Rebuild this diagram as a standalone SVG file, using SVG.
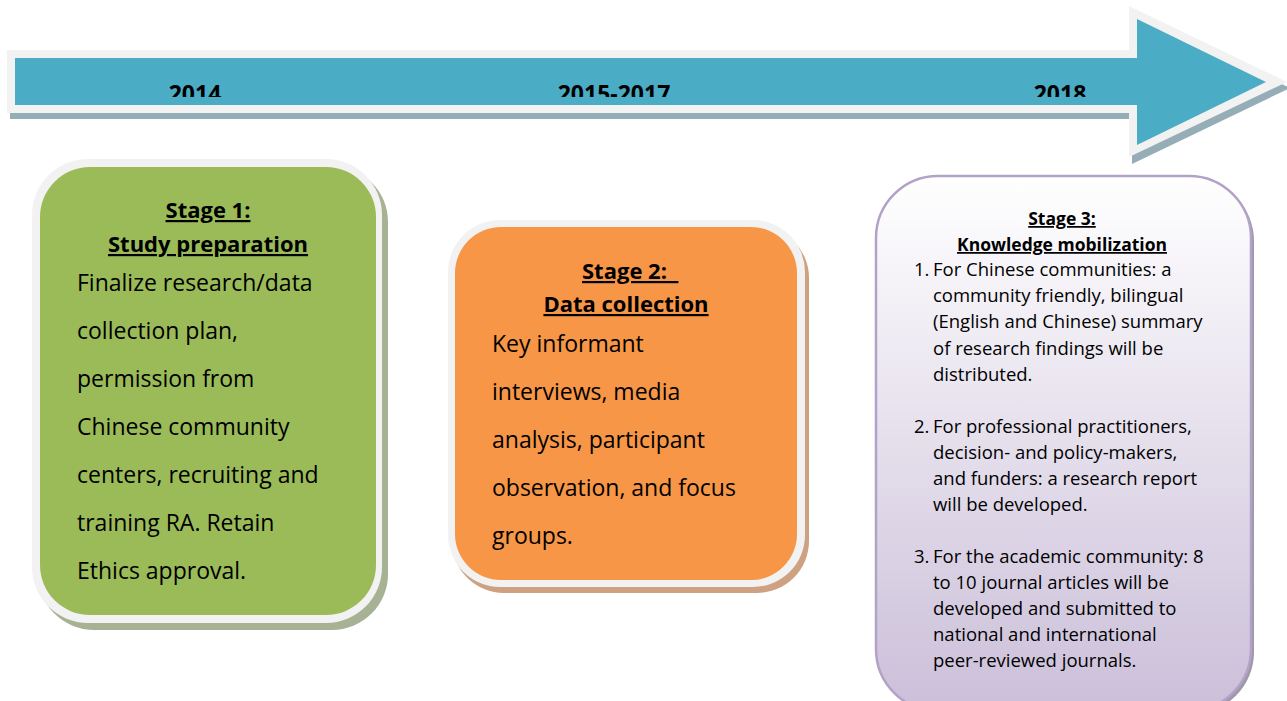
<svg xmlns="http://www.w3.org/2000/svg" width="1287" height="701" viewBox="0 0 1287 701">
  <style>
    .year { font-family: "Open Sans", "Liberation Sans", sans-serif; font-weight: bold; font-size: 23px; fill: #000; text-anchor: middle; }
    .title { font-family: "Open Sans", "Liberation Sans", sans-serif; font-weight: bold; font-size: 22px; fill: #000; text-decoration: underline; }
    .title3 { font-family: "Open Sans", "Liberation Sans", sans-serif; font-weight: bold; font-size: 17.5px; fill: #000; text-decoration: underline; text-anchor: middle; }
    .body { font-family: "Open Sans", "Liberation Sans", sans-serif; font-size: 23px; fill: #000; }
    .list { font-family: "Open Sans", "Liberation Sans", sans-serif; font-size: 18.5px; fill: #000; }
    .mid { text-anchor: middle; }
  </style>
  <defs>
    <clipPath id="yearClip">
      <rect x="0" y="0" width="1287" height="97"/>
    </clipPath>
    <linearGradient id="purpleGrad" x1="0" y1="0" x2="0" y2="1">
      <stop offset="0" stop-color="#ffffff"/>
      <stop offset="1" stop-color="#cbbfd9"/>
    </linearGradient>
  </defs>

  <rect width="1287" height="701" fill="#ffffff"/>

  <g id="timeline-arrow">
    <polygon points="10,56 1132,56 1132,13 1290,88 1132,164 1132,119 10,119" fill="#95adb6"/>
    <polygon points="7,50 1129,50 1129,6 1287,82 1129,157 1129,113 7,113" fill="#f2f2f2"/>
    <polygon points="15,58 1137,58 1137,19 1266,82 1137,145 1137,105 15,105" fill="#4bacc6"/>
    <g clip-path="url(#yearClip)">
      <text class="year" x="195" y="102">2014</text>
      <text class="year" x="614" y="102">2015-2017</text>
      <text class="year" x="1060" y="102">2018</text>
    </g>
  </g>

  <g id="stage1">
    <rect x="38" y="166" width="350" height="464" rx="56" fill="#a7b295"/>
    <rect x="32" y="159" width="350" height="464" rx="56" fill="#f2f2f2"/>
    <rect x="40" y="167" width="336" height="448" rx="50" fill="#9bbb59"/>
    <text class="title mid" x="208" y="218">Stage 1:</text>
    <text class="title mid" x="208" y="252">Study preparation</text>
    <text class="body" x="77" y="291">Finalize research/data</text>
    <text class="body" x="77" y="339">collection plan,</text>
    <text class="body" x="77" y="387">permission from</text>
    <text class="body" x="77" y="435">Chinese community</text>
    <text class="body" x="77" y="483">centers, recruiting and</text>
    <text class="body" x="77" y="531">training RA. Retain</text>
    <text class="body" x="77" y="579">Ethics approval.</text>
  </g>

  <g id="stage2">
    <rect x="452" y="226" width="357" height="367" rx="52" fill="#cda182"/>
    <rect x="448" y="220" width="357" height="367" rx="52" fill="#f2f2f2"/>
    <rect x="455" y="227" width="342" height="353" rx="46" fill="#f79646"/>
    <text class="title" x="582" y="279" xml:space="preserve" style="white-space:pre">Stage 2:  </text>
    <text class="title mid" x="626" y="312">Data collection</text>
    <text class="body" x="492" y="352">Key informant</text>
    <text class="body" x="492" y="400">interviews, media</text>
    <text class="body" x="492" y="448">analysis, participant</text>
    <text class="body" x="492" y="496">observation, and focus</text>
    <text class="body" x="492" y="544">groups.</text>
  </g>

  <g id="stage3">
    <rect x="879" y="179" width="375" height="535" rx="62" fill="#9f98a9"/>
    <rect x="876" y="176" width="375" height="535" rx="62" fill="url(#purpleGrad)" stroke="#b3a2c7" stroke-width="2.5"/>
    <text class="title3" x="1062" y="225">Stage 3:</text>
    <text class="title3" x="1062" y="251">Knowledge mobilization</text>
    <text class="list" x="914" y="276">1.</text>
    <text class="list" x="933" y="276">For Chinese communities: a</text>
    <text class="list" x="933" y="302">community friendly, bilingual</text>
    <text class="list" x="933" y="328">(English and Chinese) summary</text>
    <text class="list" x="933" y="355">of research findings will be</text>
    <text class="list" x="933" y="381">distributed.</text>
    <text class="list" x="914" y="433">2.</text>
    <text class="list" x="933" y="433">For professional practitioners,</text>
    <text class="list" x="933" y="459">decision- and policy-makers,</text>
    <text class="list" x="933" y="485">and funders: a research report</text>
    <text class="list" x="933" y="511">will be developed.</text>
    <text class="list" x="914" y="563">3.</text>
    <text class="list" x="933" y="563">For the academic community: 8</text>
    <text class="list" x="933" y="589">to 10 journal articles will be</text>
    <text class="list" x="933" y="615">developed and submitted to</text>
    <text class="list" x="933" y="641">national and international</text>
    <text class="list" x="933" y="667">peer-reviewed journals.</text>
  </g>

  <g id="connectors"></g>
</svg>
